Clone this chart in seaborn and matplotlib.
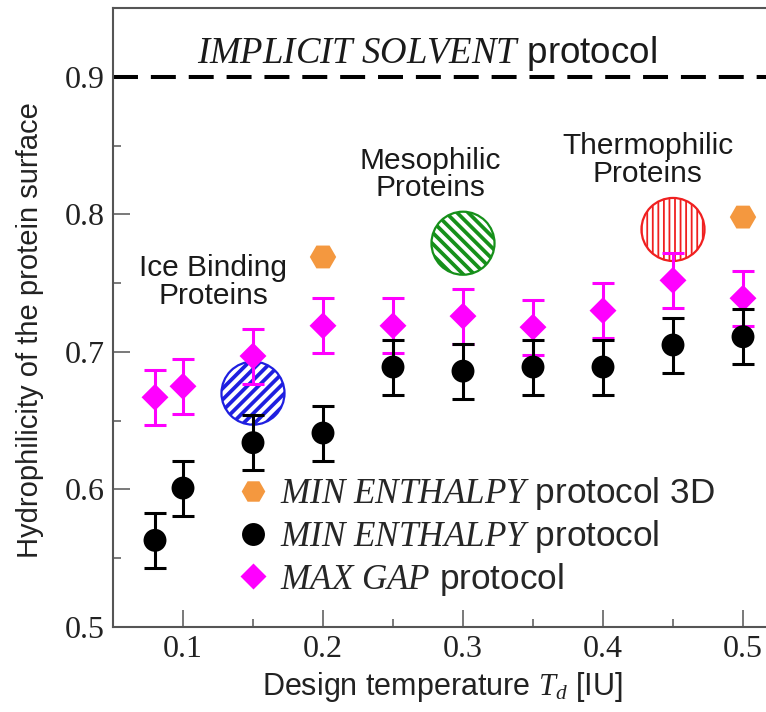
import pandas as pd
import seaborn as sns
import matplotlib.pyplot as plt
from matplotlib.lines import Line2D

# design temperatures
T_design = [0.08, 0.10, 0.15, 0.20, 0.25, 0.30, 0.35, 0.40, 0.45, 0.50]

# MIN ENTHALPY protocol
min_enthalpy = [0.563, 0.601, 0.634, 0.641, 0.689, 0.686, 0.689, 0.689, 0.705, 0.711]
min_enthalpy_err = [0.020, 0.020, 0.020, 0.020, 0.020, 0.020, 0.020, 0.020, 0.020, 0.020]

# MAX GAP protocol
max_gap = [0.667, 0.675, 0.697, 0.719, 0.719, 0.726, 0.718, 0.730, 0.752, 0.739]
max_gap_err = [0.020, 0.020, 0.020, 0.020, 0.020, 0.020, 0.020, 0.020, 0.020, 0.020]

# MIN ENTHALPY protocol 3D
T_3d = [0.20, 0.50]
min_enthalpy_3d = [0.769, 0.798]

# natural protein families
family_names = ["Ice Binding\nProteins", "Mesophilic\nProteins", "Thermophilic\nProteins"]
family_T = [0.15, 0.30, 0.45]
family_h = [0.670, 0.779, 0.789]
family_label_T = [0.1214, 0.2764, 0.432]
family_label_h = [0.751, 0.829, 0.8396]
family_colors = ["#1f1fe0", "#16901a", "#f02020"]
family_hatch = ["///", "\\\\\\", "|||"]
family_hatch_lw = [2.7, 2.7, 1.3]

implicit_solvent = 0.9

legend_labels = [r"$\mathit{MIN\ ENTHALPY}$ protocol 3D",
                 r"$\mathit{MIN\ ENTHALPY}$ protocol",
                 r"$\mathit{MAX\ GAP}$ protocol"]

orange = "#f4983f"
magenta = "#ff00ff"

sns.set_style("ticks")
plt.rcParams["font.family"] = ["Liberation Sans", "DejaVu Sans"]
plt.rcParams["mathtext.fontset"] = "custom"
plt.rcParams["mathtext.it"] = "Liberation Serif:italic"
plt.rcParams["mathtext.rm"] = "Liberation Serif"

df = pd.DataFrame({"T": T_design, "min_enthalpy": min_enthalpy, "max_gap": max_gap})
df3d = pd.DataFrame({"T": T_3d, "h": min_enthalpy_3d})

fig = plt.figure(figsize=(7.66, 7.12), dpi=100)
ax = fig.add_axes([113 / 766, 85 / 712, 653 / 766, 619 / 712])

# big hatched circles for protein families
for x, y, c, h, hl in zip(family_T, family_h, family_colors, family_hatch, family_hatch_lw):
    with plt.rc_context({"hatch.linewidth": hl}):
        ax.scatter([x], [y], s=2060, marker="o", facecolors="white",
                   edgecolors=c, hatch=h, linewidths=1.6, zorder=1)

for name, x, y in zip(family_names, family_label_T, family_label_h):
    ax.text(x, y, name, ha="center", va="center", fontsize=21.5,
            linespacing=0.98, color="#1a1a1a")

ax.axhline(implicit_solvent, color="black", lw=2.9, dashes=(6.2, 3.2), zorder=2)
ax.text(0.11, 0.910, r"$\mathit{IMPLICIT\ SOLVENT}$ protocol", fontsize=26.5,
        ha="left", va="baseline", color="#1a1a1a")

# data with error bars
ax.errorbar(T_design, max_gap, yerr=max_gap_err, fmt="none", ecolor=magenta,
            elinewidth=2.2, capsize=8, capthick=2.2, zorder=3)
sns.scatterplot(data=df, x="T", y="max_gap", marker="D", s=188, color=magenta,
                edgecolor="none", zorder=4, legend=False, ax=ax)
ax.errorbar(T_design, min_enthalpy, yerr=min_enthalpy_err, fmt="none", ecolor="black",
            elinewidth=2.2, capsize=8, capthick=2.2, zorder=5)
sns.scatterplot(data=df, x="T", y="min_enthalpy", marker="o", s=272, color="black",
                edgecolor="none", zorder=6, legend=False, ax=ax)
sns.scatterplot(data=df3d, x="T", y="h", marker="H", s=361, color=orange,
                edgecolor="none", zorder=6, legend=False, ax=ax)

handles = [Line2D([], [], ls="none", marker="H", ms=17, color=orange, mec="none"),
           Line2D([], [], ls="none", marker="o", ms=16.5, color="black", mec="none"),
           Line2D([], [], ls="none", marker="D", ms=13.7, color=magenta, mec="none")]
ax.legend(handles, legend_labels, loc="upper left", bbox_to_anchor=(0.193, 0.245),
          frameon=False, fontsize=25.3, handlelength=0.8, handletextpad=0.36,
          labelspacing=0.16, borderpad=0, borderaxespad=0)

ax.set_xlim(0.05, 0.05 + 653 / 1400)
ax.set_ylim(0.5, 0.95)
ax.set_xticks([0.1, 0.2, 0.3, 0.4, 0.5])
ax.set_xticks([0.15, 0.25, 0.35, 0.45], minor=True)
ax.set_yticks([0.5, 0.6, 0.7, 0.8, 0.9])
ax.set_yticks([0.55, 0.65, 0.75, 0.85], minor=True)
ax.set_xticklabels(["0.1", "0.2", "0.3", "0.4", "0.5"], family="Liberation Serif")
ax.set_yticklabels(["0.5", "0.6", "0.7", "0.8", "0.9"], family="Liberation Serif")
ax.tick_params(which="major", direction="in", length=12, width=1.1, color="#555555",
               labelsize=23, pad=6, labelcolor="#222222")
ax.tick_params(which="minor", direction="in", length=6, width=1.1, color="#555555")
ax.tick_params(top=False, right=False, which="both")

for s in ["left", "bottom", "top"]:
    ax.spines[s].set_color("#555555")
    ax.spines[s].set_linewidth(1.5)
ax.spines["right"].set_visible(False)

ax.set_xlabel(r"Design temperature $T_d$ [IU]", fontsize=22, color="#222222")
ax.set_ylabel("Hydrophilicity of the protein surface", fontsize=21, color="#222222")
ax.xaxis.set_label_coords(0.505, -0.0695)
ax.yaxis.set_label_coords(-0.1057, 0.48)

fig.savefig("out.png", dpi=100)
